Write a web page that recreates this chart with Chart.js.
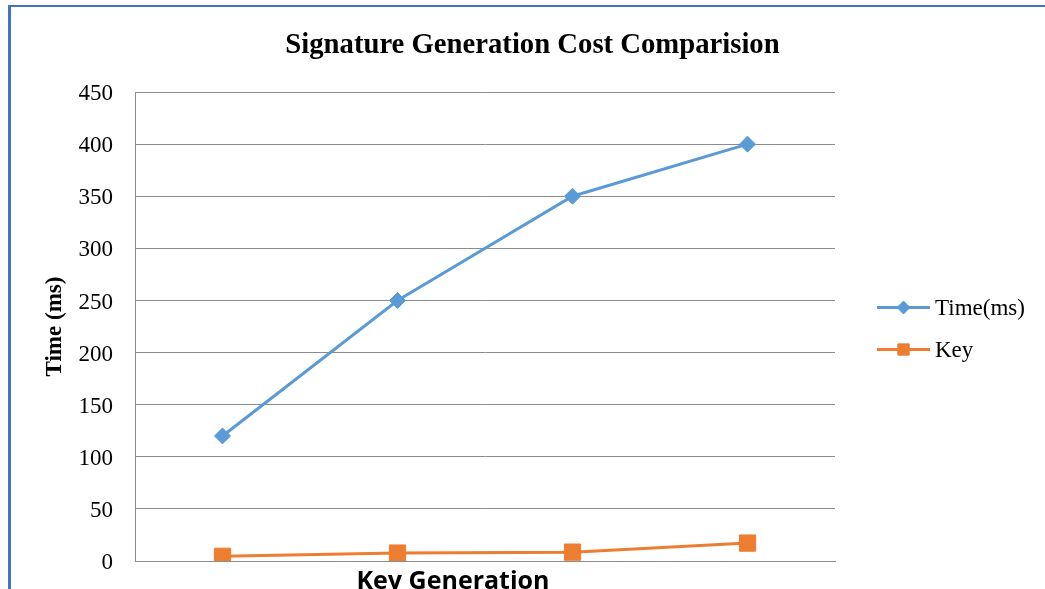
<!DOCTYPE html>
<html>
<head>
<meta charset="utf-8">
<title>Signature Generation Cost Comparision</title>
<script src="https://cdn.jsdelivr.net/npm/chart.js@4.4.1/dist/chart.umd.min.js"></script>
<style>
    html, body { margin: 0; padding: 0; background: #fff; }
    #wrap { position: relative; width: 1045px; height: 589px; overflow: hidden; }
    #frame {
        position: absolute; left: 8px; top: 5px; width: 1200px; height: 800px;
        border-left: 3px solid #4472c4; border-top: 2px solid #4472c4;
    }
    #chart { position: absolute; left: 0; top: 0; }
</style>
</head>
<body>
<div id="wrap">
    <div id="frame"></div>
    <canvas id="chart" width="1045" height="589"></canvas>
</div>
<script>
// --- data ---
const categories = ['1', '2', '3', '4'];
const timeValues = [120, 250, 350, 400];
const keyValues = [4.5, 7.6, 8.5, 17.2];
const yTickValues = [0, 50, 100, 150, 200, 250, 300, 350, 400, 450];

const BLUE = '#5b9bd5';
const ORANGE = '#ed7d31';
const GRID = '#8c8c8c';
const SERIF = "'Liberation Serif', 'Times New Roman', serif";

// legend with line + marker, and the x title which sits left of centre
const extras = {
    id: 'extras',
    afterDraw(chart) {
        const { ctx, chartArea } = chart;
        ctx.save();

        // x axis title
        ctx.font = "bold 25px 'Open Sans', sans-serif";
        ctx.fillStyle = '#000';
        ctx.textAlign = 'center';
        ctx.textBaseline = 'alphabetic';
        ctx.fillText('Key Generation', chartArea.left + 318, chartArea.bottom + 28);

        // legend
        const x0 = chartArea.right + 42;
        const midY = (chartArea.top + chartArea.bottom) / 2;
        const items = [
            { ds: chart.data.datasets[0], radius: 6.5 },
            { ds: chart.data.datasets[1], radius: 8 }
        ];
        items.forEach((item, i) => {
            const y = midY - 19 + i * 42;
            ctx.strokeStyle = item.ds.borderColor;
            ctx.fillStyle = item.ds.borderColor;
            ctx.lineWidth = 3;
            ctx.beginPath();
            ctx.moveTo(x0, y);
            ctx.lineTo(x0 + 53, y);
            ctx.stroke();
            ctx.lineWidth = 1;
            Chart.helpers.drawPoint(ctx, {
                pointStyle: item.ds.pointStyle, rotation: 0,
                radius: item.radius, borderWidth: 1
            }, x0 + 26.5, y);

            ctx.fillStyle = '#000';
            ctx.font = '23px ' + SERIF;
            ctx.textAlign = 'left';
            ctx.textBaseline = 'middle';
            ctx.fillText(item.ds.label, x0 + 58, y + 1);
        });
        ctx.restore();
    }
};

const ctx = document.getElementById('chart').getContext('2d');
new Chart(ctx, {
    type: 'line',
    data: {
        labels: categories,
        datasets: [{
            label: 'Time(ms)',
            data: timeValues,
            borderColor: BLUE,
            backgroundColor: BLUE,
            borderWidth: 3,
            pointStyle: 'rectRot',
            pointRadius: 8,
            pointBorderWidth: 1,
            tension: 0,
            yAxisID: 'y'
        }, {
            label: 'Key',
            data: keyValues,
            borderColor: ORANGE,
            backgroundColor: ORANGE,
            borderWidth: 3,
            pointStyle: 'rect',
            pointRadius: 11.5,
            pointBorderWidth: 1,
            tension: 0,
            yAxisID: 'y'
        }]
    },
    options: {
        responsive: false,
        animation: false,
        devicePixelRatio: 1,
        layout: { padding: { left: 20, right: 0, top: 0, bottom: 0 } },
        plugins: {
            legend: { display: false },
            tooltip: { enabled: false },
            title: {
                display: true,
                text: 'Signature Generation Cost Comparision',
                color: '#000',
                font: { family: SERIF, size: 28.7, weight: 'bold' },
                padding: { top: 28, bottom: 29.6 }
            }
        },
        scales: {
            x: {
                type: 'category',
                offset: true,
                grid: { display: false },
                border: { display: true, color: GRID, width: 1 },
                ticks: { display: false },
                afterFit: s => { s.height = 28; }
            },
            y: {
                type: 'linear',
                position: 'left',
                min: 0,
                max: 450,
                afterBuildTicks: s => { s.ticks = yTickValues.map(v => ({ value: v })); },
                // invisible tick marks give the gap between labels and axis
                grid: { color: GRID, lineWidth: 1, drawTicks: true, tickLength: 22, tickColor: 'rgba(0,0,0,0)' },
                border: { display: true, color: GRID, width: 1 },
                ticks: { color: '#000', font: { family: SERIF, size: 23 }, padding: 0, labelOffset: 2 },
                title: {
                    display: true,
                    text: 'Time (ms)',
                    color: '#000',
                    font: { family: SERIF, size: 23, weight: 'bold' },
                    padding: { top: 21, bottom: 0 }
                },
                afterFit: s => { s.width = 115; }
            },
            // empty right axis that only keeps room for the legend
            y2: {
                type: 'linear',
                position: 'right',
                grid: { display: false },
                border: { display: false },
                ticks: { display: false },
                afterFit: s => { s.width = 210; }
            }
        }
    },
    plugins: [extras]
});
</script>
</body>
</html>
